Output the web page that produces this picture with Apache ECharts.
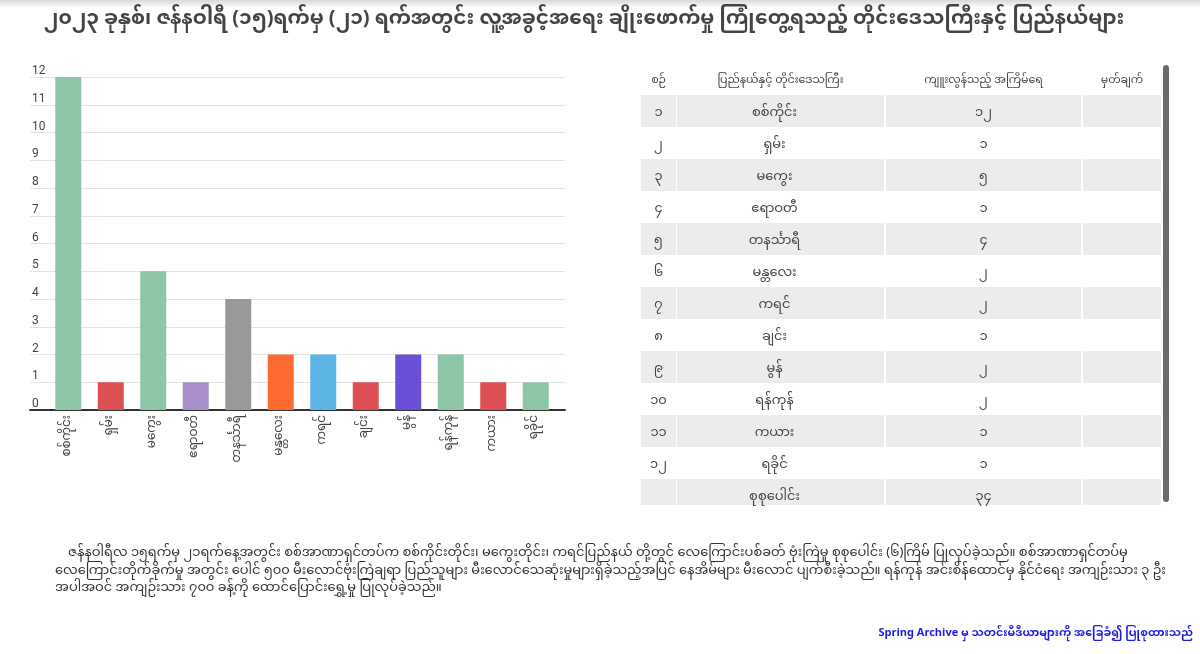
<!DOCTYPE html>
<html>
<head>
<meta charset="utf-8">
<script src="https://cdn.jsdelivr.net/npm/echarts@6/dist/echarts.min.js"></script>
<style>
  html, body { margin: 0; padding: 0; background: #fff; }
  #chart { width: 1200px; height: 654px; }
</style>
</head>
<body>
<div id="chart"></div>
<script>
// ---- data ----
const titleText = '၂၀၂၃ ခုနှစ်၊ ဇန်နဝါရီ (၁၅)ရက်မှ (၂၁) ရက်အတွင်း လူ့အခွင့်အရေး ချိုးဖောက်မှု ကြုံတွေ့ရသည့် တိုင်းဒေသကြီးနှင့် ပြည်နယ်များ';
const regions = ['စစ်ကိုင်း', 'ရှမ်း', 'မကွေး', 'ဧရာဝတီ', 'တနင်္သာရီ', 'မန္တလေး', 'ကရင်', 'ချင်း', 'မွန်', 'ရန်ကုန်', 'ကယား', 'ရခိုင်'];
const counts = [12, 1, 5, 1, 4, 2, 2, 1, 2, 2, 1, 1];
const barColors = ['#8dc5a6', '#dc4f52', '#8dc5a6', '#a98fc9', '#999999', '#ff6a33', '#5cb4e6', '#dc4f52', '#6b4fd8', '#8dc5a6', '#dc4f52', '#8dc5a6'];
const yTicks = [0, 1, 2, 3, 4, 5, 6, 7, 8, 9, 10, 11, 12];
const tableHeaders = ['စဉ်', 'ပြည်နယ်နှင့် တိုင်းဒေသကြီး', 'ကျူးလွန်သည့် အကြိမ်ရေ', 'မှတ်ချက်'];
const totalLabel = 'စုစုပေါင်း';
const noteLines = [
  'ဇန်နဝါရီလ ၁၅ရက်မှ ၂၁ရက်နေ့အတွင်း စစ်အာဏာရှင်တပ်က စစ်ကိုင်းတိုင်း၊ မကွေးတိုင်း၊ ကရင်ပြည်နယ် တို့တွင် လေကြောင်းပစ်ခတ် ဗုံးကြဲမှု စုစုပေါင်း (၆)ကြိမ် ပြုလုပ်ခဲ့သည်။ စစ်အာဏာရှင်တပ်မှ',
  'လေကြောင်းတိုက်ခိုက်မှု အတွင်း ပေါင် ၅၀၀ မီးလောင်ဗုံးကြဲချရာ ပြည်သူများ မီးလောင်သေဆုံးမှုများရှိခဲ့သည့်အပြင် နေအိမ်များ မီးလောင် ပျက်စီးခဲ့သည်။ ရန်ကုန် အင်းစိန်ထောင်မှ နိုင်ငံရေး အကျဉ်းသား ၃ ဦး',
  'အပါအဝင် အကျဉ်းသား ၇၀၀ ခန့်ကို ထောင်ပြောင်းရွှေ့မှု ပြုလုပ်ခဲ့သည်။'
];
const sourceText = 'Spring Archive မှ သတင်းမီဒီယာများကို အခြေခံ၍ ပြုစုထားသည်';

// ---- helpers ----
const myDigits = '၀၁၂၃၄၅၆၇၈၉';
function toMy(n) { return String(n).replace(/\d/g, d => myDigits[+d]); }

const FONT = '"Noto Sans Myanmar", Padauk, "Myanmar Text", "Noto Sans", Roboto, sans-serif';

// table rows: header + data rows + total
const total = counts.reduce((a, b) => a + b, 0);
const tableRows = [tableHeaders];
regions.forEach((r, i) => tableRows.push([toMy(i + 1), r, toMy(counts[i]), '']));
tableRows.push(['', totalLabel, toMy(total), '']);
const rowIds = tableRows.map((_, i) => i);

// column layout (styling)
const colBoxes = [[641, 35], [677, 207], [886, 195], [1083, 78]];
const colTextShift = [0, -6, 0, 0];
const tableTop = 63, tableRowH = 32;

const chart = echarts.init(document.getElementById('chart'));

const grids = [
  { left: 47, width: 510, top: 77, height: 333 },   // bars
  { left: 30, width: 535, top: 77, height: 333 }    // gridlines + y labels + base line
];
const xAxes = [
  {
    gridIndex: 0, type: 'category', data: regions,
    axisLine: { show: false }, axisTick: { show: false },
    axisLabel: { rotate: 90, color: '#444', fontSize: 12, margin: 5, fontFamily: FONT, interval: 0 }
  },
  {
    gridIndex: 1, type: 'value', min: 0, max: 1,
    axisLine: { show: true, lineStyle: { color: '#333', width: 2 } },
    axisTick: { show: false }, axisLabel: { show: false }, splitLine: { show: false }
  }
];
const yAxes = [
  { gridIndex: 0, type: 'value', min: 0, max: 12, interval: 1, show: false, splitLine: { show: false } },
  {
    gridIndex: 1, type: 'value', min: yTicks[0], max: yTicks[yTicks.length - 1], interval: 1,
    axisLine: { show: false }, axisTick: { show: false },
    axisLabel: { inside: true, verticalAlign: 'bottom', color: '#444', fontSize: 12, margin: 2, fontFamily: 'Roboto, sans-serif' },
    splitLine: { lineStyle: { color: '#e3e3e3', width: 1 } }
  }
];
const series = [
  {
    type: 'bar', xAxisIndex: 0, yAxisIndex: 0, barWidth: 26,
    data: counts.map((v, i) => ({ value: v, itemStyle: { color: barColors[i] } }))
  }
];

// table columns as grids with category rows
colBoxes.forEach((cb, ci) => {
  const gi = grids.length;
  grids.push({ left: cb[0], width: cb[1], top: tableTop, height: tableRowH * tableRows.length });
  xAxes.push({ gridIndex: gi, type: 'category', data: ['c'], show: false });
  yAxes.push({ gridIndex: gi, type: 'category', data: rowIds, inverse: true, show: false });
  series.push({
    type: 'custom', xAxisIndex: gi, yAxisIndex: gi, silent: true,
    data: rowIds.map(r => [0, r]),
    renderItem: function (params, api) {
      const r = api.value(1);
      const c = api.coord([0, r]);
      const sz = api.size([1, 1]);
      const w = sz[0], h = sz[1];
      const striped = r > 0 && r % 2 === 1;
      const isLast = r === tableRows.length - 1;
      const txt = tableRows[r][ci];
      const children = [];
      if (striped) {
        children.push({ type: 'rect', shape: { x: c[0] - w / 2, y: c[1] - h / 2, width: w, height: isLast ? h - 6 : h }, style: { fill: '#ececec' } });
      }
      children.push({
        type: 'text',
        style: { x: c[0] + (r > 0 ? colTextShift[ci] : 0), y: c[1] + (r === 0 ? 3 : 4), text: txt, textAlign: 'center', textVerticalAlign: 'middle', fill: '#444', fontSize: r === 0 ? 11 : 13, fontFamily: FONT }
      });
      return { type: 'group', children: children };
    }
  });
});

const graphic = [
  { type: 'rect', left: 0, top: 0, shape: { width: 1200, height: 8 }, style: { fill: new echarts.graphic.LinearGradient(0, 0, 0, 1, [{ offset: 0, color: '#d8d8d8' }, { offset: 1, color: '#ffffff' }]) }, silent: true },
  { type: 'text', x: 584, y: 22, style: { text: titleText, textAlign: 'center', textVerticalAlign: 'middle', fill: '#444', fontSize: 20, fontWeight: 'bold', fontFamily: FONT } },
  { type: 'rect', x: 1163, y: 65, shape: { width: 6, height: 437, r: 3 }, style: { fill: '#6b6b6b' } },
  { type: 'text', x: 1193, y: 635, style: { text: sourceText, textAlign: 'right', textVerticalAlign: 'middle', fill: '#1c1ce0', fontSize: 11, fontWeight: 'bold', fontFamily: FONT } }
];
noteLines.forEach((ln, i) => {
  graphic.push({ type: 'text', x: i === 0 ? 68 : 55, y: 555 + i * 17.5, style: { text: ln, textAlign: 'left', textVerticalAlign: 'middle', fill: '#333', fontSize: 13, fontFamily: FONT } });
});

chart.setOption({
  backgroundColor: '#fff',
  animation: false,
  grid: grids,
  xAxis: xAxes,
  yAxis: yAxes,
  series: series,
  graphic: graphic
});
</script>
</body>
</html>
